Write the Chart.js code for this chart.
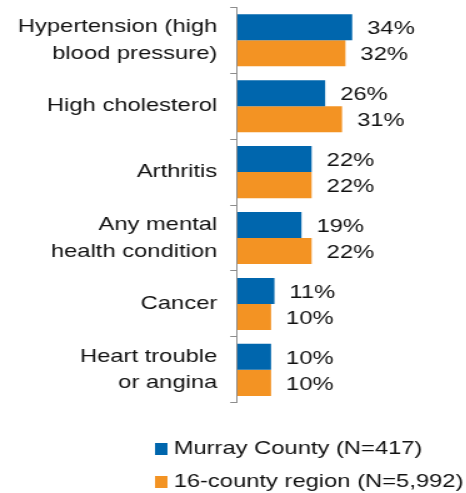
<!DOCTYPE html>
<html>
<head>
<meta charset="utf-8">
<script src="https://cdn.jsdelivr.net/npm/chart.js@4.4.1/dist/chart.umd.min.js"></script>
<style>
  html, body { margin: 0; padding: 0; background: #fff; overflow: hidden; }
  /* the original picture is stretched sideways, so draw narrow and widen it */
  #wrap { width: 373px; height: 493px; transform: scaleX(1.25); transform-origin: 0 0; }
</style>
</head>
<body>
<div id="wrap"><canvas id="bar-chart"></canvas></div>
<script>
const conditions = [
  ["Hypertension (high", "blood pressure)"],
  "High cholesterol",
  "Arthritis",
  ["Any mental", "health condition"],
  "Cancer",
  ["Heart trouble", "or angina"]
];
const murrayCounty = [34, 26, 22, 19, 11, 10];
const countyRegion = [32, 31, 22, 22, 10, 10];
const seriesNames = ["Murray County (N=417)", "16-county region (N=5,992)"];

const FONT = "'Liberation Sans', Arial, sans-serif";
Chart.defaults.font.family = FONT;
Chart.defaults.color = "#111";

const swatch = (color) => {
  const c = document.createElement("canvas");
  c.width = 10;
  c.height = 12;
  const g = c.getContext("2d");
  g.fillStyle = color;
  g.fillRect(0, 0, 10, 12);
  return c;
};

// percent labels right of each bar
const valueLabels = {
  id: "valueLabels",
  afterDatasetsDraw(chart) {
    const ctx = chart.ctx;
    ctx.save();
    ctx.font = "19px " + FONT;
    ctx.fillStyle = "#111";
    ctx.textAlign = "left";
    ctx.textBaseline = "middle";
    chart.data.datasets.forEach((ds, i) => {
      chart.getDatasetMeta(i).data.forEach((bar, j) => {
        ctx.fillText(ds.data[j] + "%", bar.x + 12, bar.y + 1.5);
      });
    });
    ctx.restore();
  }
};

// legend rows start under the labels, not centred, and may run to the right edge
const legendPlacement = {
  id: "legendPlacement",
  afterLayout(chart) {
    const lg = chart.legend;
    lg.left = chart.chartArea.left - 62 - lg.options.labels.padding;
    lg.right = chart.width;
    lg.width = lg.right - lg.left;
  }
};

new Chart(document.getElementById("bar-chart"), {
  type: "bar",
  data: {
    labels: conditions,
    datasets: [
      { label: seriesNames[0], data: murrayCounty, backgroundColor: "#0066ad" },
      { label: seriesNames[1], data: countyRegion, backgroundColor: "#f39323" }
    ]
  },
  options: {
    indexAxis: "y",
    responsive: true,
    maintainAspectRatio: false,
    animation: false,
    categoryPercentage: 0.79,
    barPercentage: 1,
    layout: {
      padding: { left: 3.8, right: 75, top: 7.3, bottom: -8 }
    },
    scales: {
      x: {
        min: 0,
        max: 40,
        grid: { display: false, drawTicks: false },
        border: { display: false },
        ticks: { display: false },
        afterFit: (scale) => { scale.height = 22.8; }
      },
      y: {
        grid: {
          drawOnChartArea: false,
          drawTicks: true,
          tickLength: 5.6,
          color: "#8c8c8c",
          offset: true
        },
        border: { display: true, color: "#8c8c8c" },
        ticks: {
          autoSkip: false,
          padding: 10.4,
          color: "#111",
          font: { size: 19, lineHeight: 1.4 }
        },
        afterFit: (scale) => {
          scale.width = 186;
          scale.paddingTop = 0;
          scale.paddingBottom = 0;
        }
      }
    },
    plugins: {
      legend: {
        position: "bottom",
        align: "start",
        labels: {
          usePointStyle: true,
          pointStyleWidth: 1.6,
          boxHeight: 12,
          padding: 13.7,
          color: "#111",
          font: { size: 19 },
          generateLabels: (chart) =>
            Chart.defaults.plugins.legend.labels.generateLabels(chart).map((item, i) => ({
              ...item,
              pointStyle: swatch(chart.data.datasets[i].backgroundColor)
            }))
        }
      },
      tooltip: { enabled: false }
    }
  },
  plugins: [valueLabels, legendPlacement]
});
</script>
</body>
</html>
